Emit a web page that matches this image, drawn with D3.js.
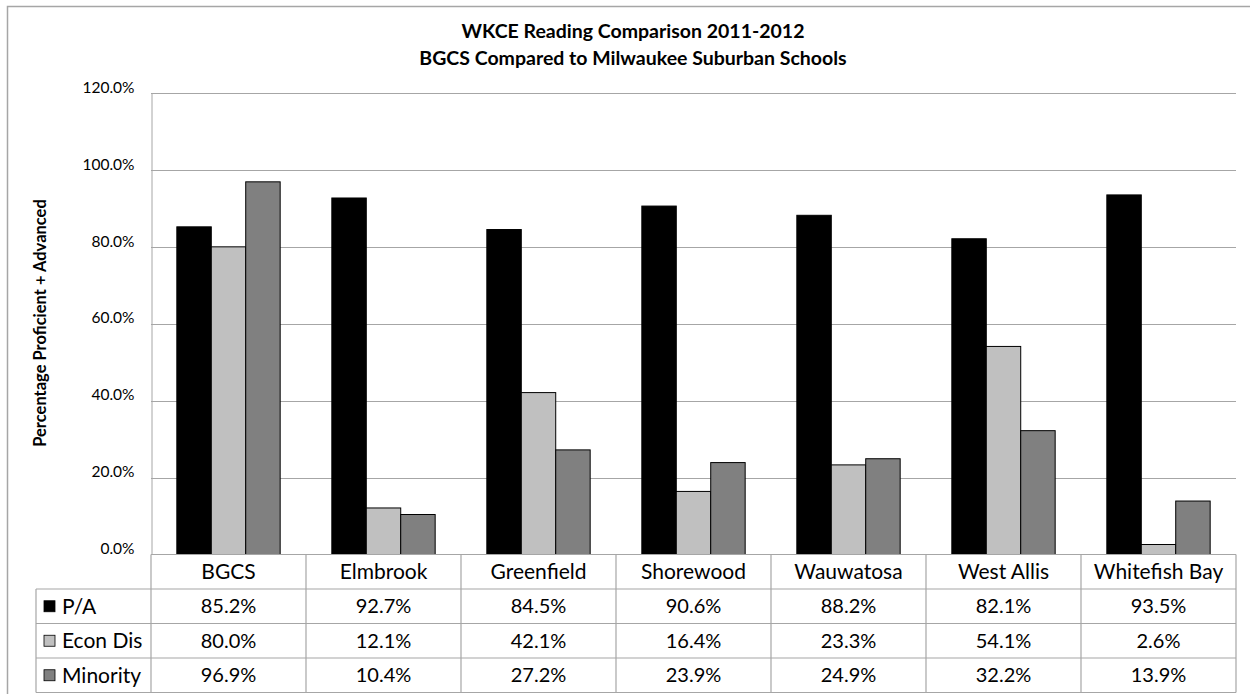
<!DOCTYPE html>
<html>
<head>
<meta charset="utf-8">
<script src="https://cdn.jsdelivr.net/npm/d3@7"></script>
<style>
  html, body { margin: 0; padding: 0; background: #fff; }
  svg { display: block; font-family: Lato, "Open Sans", sans-serif; }
</style>
</head>
<body>
<svg id="chart" width="1250" height="694"></svg>
<script>
const categories = ["BGCS", "Elmbrook", "Greenfield", "Shorewood", "Wauwatosa", "West Allis", "Whitefish Bay"];
const seriesNames = ["P/A", "Econ Dis", "Minority"];
const paValues = [0.852, 0.927, 0.845, 0.906, 0.882, 0.821, 0.935];
const econDisValues = [0.800, 0.121, 0.421, 0.164, 0.233, 0.541, 0.026];
const minorityValues = [0.969, 0.104, 0.272, 0.239, 0.249, 0.322, 0.139];
const seriesColors = ["#000000", "#c0c0c0", "#808080"];
const yTicks = [0, 0.2, 0.4, 0.6, 0.8, 1.0, 1.2];
const titleLines = ["WKCE Reading Comparison 2011-2012", "BGCS Compared to Milwaukee Suburban Schools"];
const yAxisTitle = "Percentage Proficient + Advanced";

const seriesValues = [paValues, econDisValues, minorityValues];
const svg = d3.select("#chart");
const gridColor = "#a6a6a6";

const plot = { left: 151, right: 1236, top: 93, bottom: 554.5 };
const tableLeft = 36;
const rowH = 34.5;

// outer chart border
svg.append("path").attr("d", "M7.5,694 V6.5 H1250")
  .attr("fill", "none").attr("stroke", gridColor).attr("stroke-width", 1.5);

// title
const title = svg.append("text").attr("text-anchor", "middle")
  .attr("font-weight", "bold").attr("font-size", 19.5).attr("fill", "#000");
titleLines.forEach((t, i) => {
  title.append("tspan").attr("x", 633).attr("y", 38 + i * 27).text(t);
});

const y = d3.scaleLinear().domain([0, 1.2]).range([plot.bottom, plot.top]);
const x0 = d3.scaleBand().domain(categories).range([plot.left, plot.right]).paddingInner(0).paddingOuter(0);
const x1 = d3.scaleBand().domain(seriesNames).range([0, x0.bandwidth()]).paddingInner(0).paddingOuter(0.75);

// gridlines
svg.append("g").selectAll("line").data(yTicks.filter(d => d > 0)).join("line")
  .attr("x1", plot.left).attr("x2", plot.right)
  .attr("y1", d => Math.round(y(d)) + 0.5).attr("y2", d => Math.round(y(d)) + 0.5)
  .attr("stroke", gridColor).attr("stroke-width", 1);

// y axis
const yAxis = d3.axisLeft(y).tickValues(yTicks).tickFormat(d3.format(".1%")).tickSize(0).tickPadding(17);
const yg = svg.append("g").attr("transform", `translate(${plot.left + 0.5},0)`).call(yAxis);
yg.select(".domain").attr("stroke", gridColor);
yg.selectAll("text").attr("font-size", 15.5).attr("fill", "#000").attr("font-family", "Lato, sans-serif")
  .attr("dy", "-0.05em");

// y axis title
svg.append("text")
  .attr("transform", `translate(46,323) rotate(-90)`)
  .attr("text-anchor", "middle").attr("font-weight", "bold").attr("font-size", 16.5)
  .text(yAxisTitle);

// bars
const groups = svg.append("g").selectAll("g").data(categories).join("g")
  .attr("transform", d => `translate(${x0(d)},0)`);
groups.selectAll("rect").data((d, i) => seriesNames.map((s, j) => ({ s, j, v: seriesValues[j][i] }))).join("rect")
  .attr("x", d => x1(d.s))
  .attr("y", d => y(d.v))
  .attr("width", x1.bandwidth())
  .attr("height", d => y(0) - y(d.v))
  .attr("fill", d => seriesColors[d.j])
  .attr("stroke", "#000").attr("stroke-width", 1);

// x axis baseline
svg.append("line").attr("x1", plot.left).attr("x2", plot.right)
  .attr("y1", plot.bottom).attr("y2", plot.bottom)
  .attr("stroke", gridColor).attr("stroke-width", 1.2);

// data table
const table = svg.append("g");
const tableBottom = plot.bottom + rowH * 4;
for (let r = 1; r <= 4; r++) {
  const yy = plot.bottom + rowH * r;
  table.append("line").attr("x1", tableLeft).attr("x2", plot.right)
    .attr("y1", yy).attr("y2", yy).attr("stroke", gridColor).attr("stroke-width", 1.2);
}
const colEdges = categories.map(c => x0(c)).concat([plot.right]);
colEdges.forEach(xx => {
  table.append("line").attr("x1", xx).attr("x2", xx)
    .attr("y1", plot.bottom).attr("y2", tableBottom)
    .attr("stroke", gridColor).attr("stroke-width", 1.2);
});
table.append("line").attr("x1", tableLeft).attr("x2", tableLeft)
  .attr("y1", plot.bottom + rowH).attr("y2", tableBottom)
  .attr("stroke", gridColor).attr("stroke-width", 1.2);

// header (category names)
table.selectAll("text.cat").data(categories).join("text").attr("class", "cat")
  .attr("x", d => x0(d) + x0.bandwidth() / 2)
  .attr("y", plot.bottom + rowH / 2)
  .attr("dy", "0.36em").attr("text-anchor", "middle").attr("font-size", 21)
  .text(d => d);

// series rows
const fmt = d3.format(".1%");
seriesNames.forEach((s, j) => {
  const cy = plot.bottom + rowH * (j + 1) + rowH / 2;
  table.append("rect").attr("x", 44).attr("y", cy - 5.5).attr("width", 11).attr("height", 11)
    .attr("fill", seriesColors[j]).attr("stroke", "#000").attr("stroke-width", 0.8);
  table.append("text").attr("x", 62).attr("y", cy).attr("dy", "0.36em")
    .attr("font-size", 21).text(s);
  table.selectAll(null).data(categories).join("text")
    .attr("x", d => x0(d) + x0.bandwidth() / 2)
    .attr("y", cy).attr("dy", "0.36em").attr("text-anchor", "middle").attr("font-size", 20)
    .text((d, i) => fmt(seriesValues[j][i]));
});
</script>
</body>
</html>
